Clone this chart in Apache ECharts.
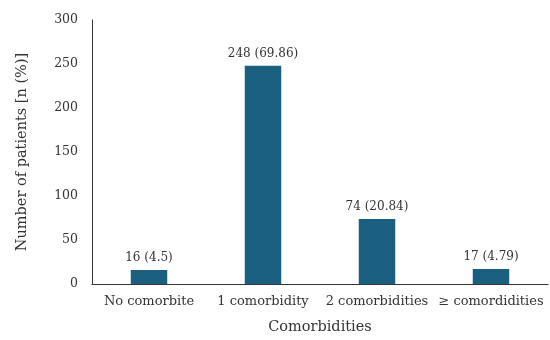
<!DOCTYPE html>
<html><head><meta charset="utf-8">
<script src="https://cdn.jsdelivr.net/npm/echarts@6/dist/echarts.min.js"></script>
<style>html,body{margin:0;padding:0;background:#fff}#c{width:550px;height:340px}</style>
</head><body><div id="c"></div>
<script>
const categories = ["No comorbite", "1 comorbidity", "2 comorbidities", "\u2265 comordidities"];
const counts = [16, 248, 74, 17];
const percents = ["4.5", "69.86", "20.84", "4.79"];
const yTicks = [0, 50, 100, 150, 200, 250, 300];

const font = "DejaVu Serif";
const chart = echarts.init(document.getElementById('c'));
chart.setOption({
  animation: false,
  textStyle: {fontFamily: font},
  grid: {left: 92, right: 2, top: 20, bottom: 54},
  xAxis: {
    type: 'category', data: categories,
    name: 'Comorbidities', nameLocation: 'middle', nameGap: 36,
    nameTextStyle: {fontFamily: font, fontSize: 14.5, color: '#333'},
    axisLine: {lineStyle: {color: '#333', width: 1}},
    axisTick: {show: false},
    axisLabel: {fontFamily: font, fontSize: 13, color: '#333', margin: 11, interval: 0}
  },
  yAxis: {
    type: 'value', min: yTicks[0], max: yTicks[yTicks.length-1], interval: 50,
    name: 'Number of patients [n (%)]', nameLocation: 'middle', nameGap: 62,
    nameTextStyle: {fontFamily: font, fontSize: 14.5, color: '#333'},
    axisLine: {show: true, lineStyle: {color: '#333', width: 1}},
    axisTick: {show: false},
    splitLine: {show: false},
    axisLabel: {fontFamily: font, fontSize: 12.5, color: '#333', margin: 14}
  },
  series: [{
    type: 'bar', data: counts, barWidth: '32%',
    itemStyle: {color: '#1a5f80'},
    label: {show: true, position: 'top', distance: 6, fontFamily: font, fontSize: 12, color: '#333',
      formatter: p => counts[p.dataIndex] + ' (' + percents[p.dataIndex] + ')'}
  }]
});
</script></body></html>
